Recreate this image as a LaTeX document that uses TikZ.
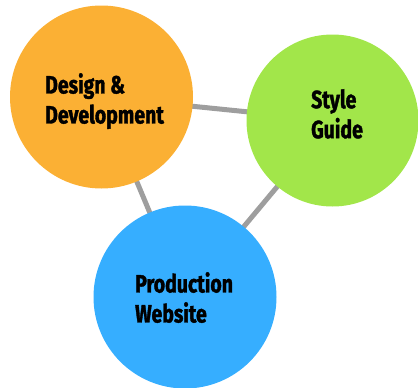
\documentclass[tikz,border=0pt]{standalone}
\usepackage{fontspec}
\setmainfont{Fira Sans}
\newfontfamily\tagfont{Fira Sans}[FakeStretch=0.78,BoldFeatures={FakeBold=1.5}]
\usetikzlibrary{backgrounds}
\definecolor{DevClr}{RGB}{251,176,52}
\definecolor{GuideClr}{RGB}{162,230,74}
\definecolor{SiteClr}{RGB}{54,174,255}
\definecolor{LinkClr}{RGB}{158,158,158}

\tikzset{
  blob/.style={circle,inner sep=0pt,minimum size=#1},
  tag/.style={anchor=north west,align=left,inner sep=0pt,
    font=\tagfont\bfseries\fontsize{25}{30}\selectfont},
  link/.style={line width=5pt,color=LinkClr}
}

\begin{document}
\begin{tikzpicture}[x=1pt,y=-1pt]
\useasboundingbox (0,0) rectangle (418,388);

% the three circles
\node[blob=183pt,fill=DevClr] (dev) at (101.5,97) {};
\node[blob=172pt,fill=GuideClr] (guide) at (332.5,120.5) {};
\node[blob=183pt,fill=SiteClr] (site) at (185,297) {};

% links run behind the circles
\begin{scope}[on background layer]
\draw[link] (dev.center) -- (guide.center);
\draw[link] (dev.center) -- (site.center);
\draw[link] (site.center) -- (guide.center);
\end{scope}

% labels
\node[tag] (dev-t) at (45,73) {Design \&\\Development};
\node[tag] (guide-t) at (311,89) {Style\\Guide};
\node[tag] (site-t) at (135,272) {Production\\Website};

\end{tikzpicture}
\end{document}
